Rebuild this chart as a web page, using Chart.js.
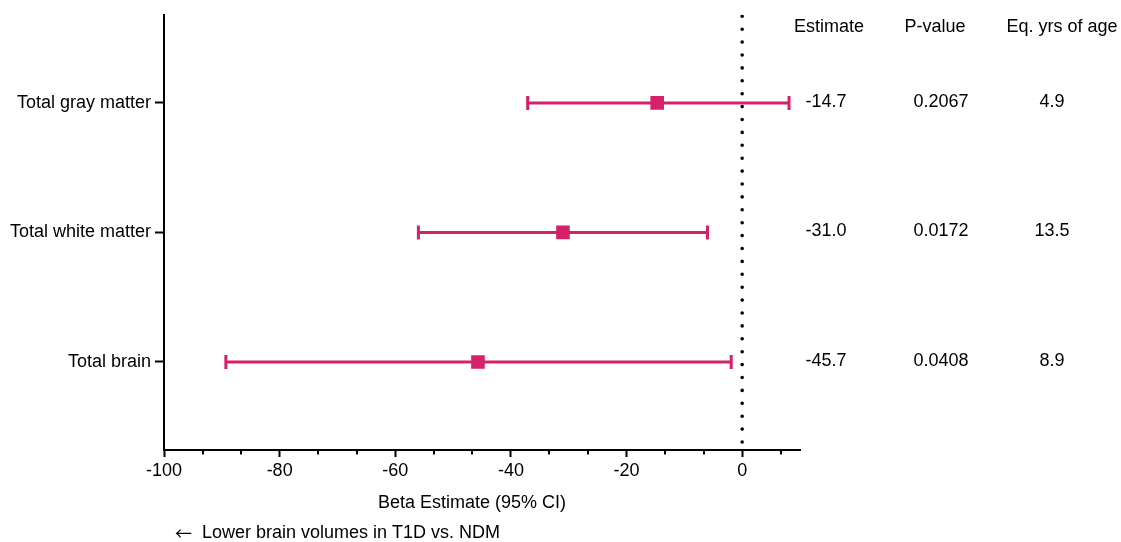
<!DOCTYPE html>
<html>
<head>
<meta charset="utf-8">
<title>Brain volume beta estimates</title>
<script src="https://cdn.jsdelivr.net/npm/chart.js@4/dist/chart.umd.min.js"></script>
<style>
  html, body { margin: 0; padding: 0; background: #fff; }
  #wrap { width: 1121px; height: 542px; }
</style>
</head>
<body>
<div id="wrap"><canvas id="forest" width="1121" height="542"></canvas></div>
<script>
// Regions, top to bottom
const regions = ['Total gray matter', 'Total white matter', 'Total brain'];
// Beta estimate and 95% CI bounds for each region
const estimates = [-14.7, -31.0, -45.7];
const ciLower = [-37.1, -56.0, -89.3];
const ciUpper = [8.1, -6.0, -1.9];
// Table columns to the right of the plot
const pValues = ['0.2067', '0.0172', '0.0408'];
const eqYears = ['4.9', '13.5', '8.9'];
// Labelled ticks on the beta axis
const xMajorTicks = [-100, -80, -60, -40, -20, 0];

const MAGENTA = '#D5206A';
const FONT = '"Liberation Sans", Arial, Helvetica, sans-serif';
const FONT_SIZE = 18;

Chart.defaults.font.family = FONT;
Chart.defaults.font.size = FONT_SIZE;
Chart.defaults.color = '#000';

// One horizontal whisker per region, capped at both ends
const ciSets = regions.map((r, i) => ({
  label: r + ' CI',
  showLine: true,
  data: [{ x: ciLower[i], y: i + 1 }, { x: ciUpper[i], y: i + 1 }],
  borderColor: MAGENTA,
  borderWidth: 3,
  pointStyle: 'line',
  rotation: 90,
  pointRadius: 7,
  pointBorderWidth: 3,
  pointBorderColor: MAGENTA,
  pointHoverRadius: 7,
  order: 2
}));

const pointSet = {
  label: 'Estimate',
  data: estimates.map((v, i) => ({ x: v, y: i + 1 })),
  pointStyle: 'rect',
  pointRadius: 9.6,
  pointHoverRadius: 9.6,
  backgroundColor: MAGENTA,
  borderColor: MAGENTA,
  borderWidth: 0,
  order: 1
};

// Dotted line of no effect at zero
const zeroLine = {
  label: 'zero',
  showLine: true,
  data: [{ x: 0, y: 0.32 }, { x: 0, y: 3.68 }],
  borderColor: '#000',
  borderWidth: 3.6,
  borderDash: [0, 12.9],
  borderDashOffset: -1.5,
  borderCapStyle: 'round',
  pointRadius: 0,
  pointHoverRadius: 0,
  order: 3
};

// Minor ticks (thirds between labelled ticks) plus the side table and notes
const decorations = {
  id: 'decorations',
  afterDraw(chart) {
    const { ctx, scales: { x, y }, chartArea } = chart;
    ctx.save();
    // minor ticks on the x axis
    ctx.strokeStyle = '#000';
    ctx.lineWidth = 2;
    const step = 20 / 3;
    for (let v = -100; v <= 10 + 1e-6; v += step) {
      const isMajor = Math.abs(Math.round(v / 20) * 20 - v) < 1e-6;
      if (isMajor) continue;
      const px = Math.round(x.getPixelForValue(v));
      ctx.beginPath();
      ctx.moveTo(px, chartArea.bottom);
      ctx.lineTo(px, chartArea.bottom + 4.5);
      ctx.stroke();
    }

    ctx.fillStyle = '#000';
    ctx.font = FONT_SIZE + 'px ' + FONT;
    ctx.textBaseline = 'middle';
    ctx.textAlign = 'center';

    // table headers
    ctx.fillText('Estimate', 829, 27);
    ctx.fillText('P-value', 935, 27);
    ctx.fillText('Eq. yrs of age', 1062, 27);

    // table rows aligned to each region
    regions.forEach((r, i) => {
      const py = y.getPixelForValue(i + 1) - 1;
      ctx.fillText(estimates[i].toFixed(1), 826, py);
      ctx.fillText(pValues[i], 941, py);
      ctx.fillText(eqYears[i], 1052, py);
    });

    // axis title and direction note
    ctx.fillText('Beta Estimate (95% CI)', 472, 503);
    ctx.textAlign = 'left';
    ctx.font = '17px "Noto Sans CJK SC", "DejaVu Sans", sans-serif';
    ctx.fillText('\u2190', 175, 534);
    ctx.font = FONT_SIZE + 'px ' + FONT;
    ctx.fillText('Lower brain volumes in T1D vs. NDM', 202, 533);
    ctx.restore();
  }
};

new Chart(document.getElementById('forest'), {
  type: 'scatter',
  data: { datasets: [pointSet, ...ciSets, zeroLine] },
  options: {
    responsive: false,
    animation: false,
    events: [],
    layout: { padding: { top: 14, right: 321, left: 0, bottom: 0 } },
    plugins: {
      legend: { display: false },
      tooltip: { enabled: false }
    },
    scales: {
      x: {
        type: 'linear',
        position: 'bottom',
        min: -100,
        max: 10,
        afterBuildTicks(scale) {
          scale.ticks = xMajorTicks.map(v => ({ value: v }));
        },
        afterFit(scale) { scale.height = 92; },
        ticks: {
          padding: 3,
          maxRotation: 0,
          autoSkip: false,
          callback: v => String(v)
        },
        grid: {
          drawOnChartArea: false,
          drawTicks: true,
          tickLength: 7,
          tickWidth: 2,
          tickColor: '#000'
        },
        border: { display: true, color: '#000', width: 2 }
      },
      y: {
        type: 'linear',
        reverse: true,
        min: 0.32,
        max: 3.68,
        afterBuildTicks(scale) {
          scale.ticks = regions.map((r, i) => ({ value: i + 1 }));
        },
        afterFit(scale) { scale.width = 164; },
        ticks: {
          padding: 4,
          autoSkip: false,
          callback: v => regions[Math.round(v) - 1] || ''
        },
        grid: {
          drawOnChartArea: false,
          drawTicks: true,
          tickLength: 9,
          tickWidth: 2,
          tickColor: '#000'
        },
        border: { display: true, color: '#000', width: 2 }
      }
    }
  },
  plugins: [decorations]
});
</script>
</body>
</html>
